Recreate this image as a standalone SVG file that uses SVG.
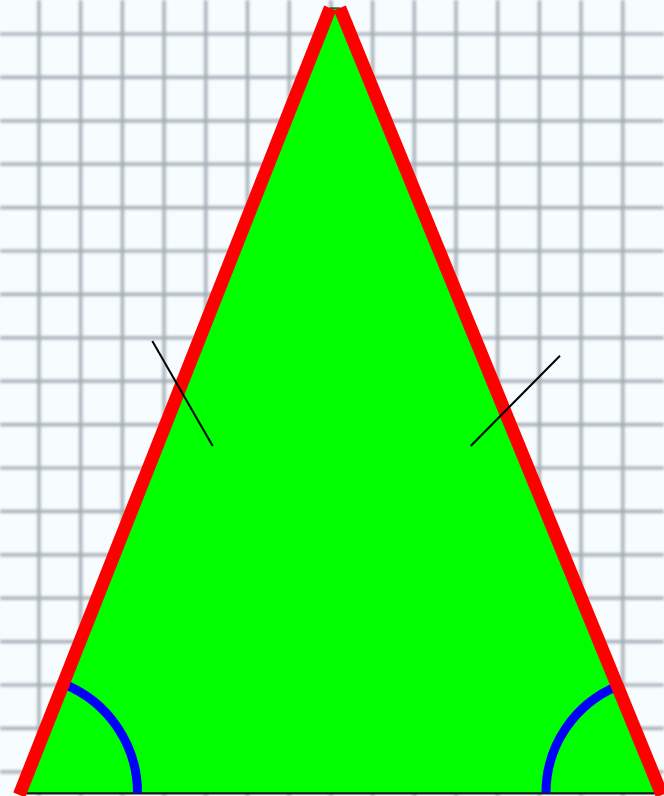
<svg xmlns="http://www.w3.org/2000/svg" width="664" height="796" viewBox="0 0 664 796">
<defs>
<filter id="blur" x="-5%" y="-5%" width="110%" height="110%"><feGaussianBlur stdDeviation="1.7"/></filter>
<style>
.grid line{stroke:#a2acb5;stroke-width:3.2}
.side{stroke:#ff0000;stroke-width:13;stroke-linecap:butt;fill:none}
.arc{stroke:#0000ff;stroke-width:9;fill:none}
.tick{stroke:#000;stroke-width:2;fill:none}
</style>
</defs>
<rect x="0" y="0" width="664" height="796" fill="#f7fcfe"/>
<g id="grid" class="grid" filter="url(#blur)">
<line x1="39" y1="0" x2="39" y2="796"/>
<line x1="80.7" y1="0" x2="80.7" y2="796"/>
<line x1="122.4" y1="0" x2="122.4" y2="796"/>
<line x1="164.1" y1="0" x2="164.1" y2="796"/>
<line x1="205.8" y1="0" x2="205.8" y2="796"/>
<line x1="247.5" y1="0" x2="247.5" y2="796"/>
<line x1="289.2" y1="0" x2="289.2" y2="796"/>
<line x1="330.9" y1="0" x2="330.9" y2="796"/>
<line x1="372.6" y1="0" x2="372.6" y2="796"/>
<line x1="414.3" y1="0" x2="414.3" y2="796"/>
<line x1="456" y1="0" x2="456" y2="796"/>
<line x1="497.7" y1="0" x2="497.7" y2="796"/>
<line x1="539.4" y1="0" x2="539.4" y2="796"/>
<line x1="581.1" y1="0" x2="581.1" y2="796"/>
<line x1="622.8" y1="0" x2="622.8" y2="796"/>
<line x1="0" y1="34" x2="664" y2="34"/>
<line x1="0" y1="77.4" x2="664" y2="77.4"/>
<line x1="0" y1="120.8" x2="664" y2="120.8"/>
<line x1="0" y1="164.2" x2="664" y2="164.2"/>
<line x1="0" y1="207.6" x2="664" y2="207.6"/>
<line x1="0" y1="251" x2="664" y2="251"/>
<line x1="0" y1="294.4" x2="664" y2="294.4"/>
<line x1="0" y1="337.8" x2="664" y2="337.8"/>
<line x1="0" y1="381.2" x2="664" y2="381.2"/>
<line x1="0" y1="424.6" x2="664" y2="424.6"/>
<line x1="0" y1="468" x2="664" y2="468"/>
<line x1="0" y1="511.4" x2="664" y2="511.4"/>
<line x1="0" y1="554.8" x2="664" y2="554.8"/>
<line x1="0" y1="598.2" x2="664" y2="598.2"/>
<line x1="0" y1="641.6" x2="664" y2="641.6"/>
<line x1="0" y1="685" x2="664" y2="685"/>
<line x1="0" y1="728.4" x2="664" y2="728.4"/>
<line x1="0" y1="771.8" x2="664" y2="771.8"/>
</g>
<g id="triangle">
<polygon points="330,8 340,8 661,793 20,793" fill="#00ff00" stroke="#000" stroke-width="1"/>
<line x1="20" y1="793.5" x2="661" y2="793.5" stroke="#1a1a1a" stroke-width="2"/>
</g>
<g id="angles">
<path class="arc" d="M137.5,793 A117.5,117.5 0 0 0 63.2,683.7"/>
<path class="arc" d="M546,793 A115.6,115.6 0 0 1 617.8,686"/>
</g>
<g id="sides">
<line class="side" x1="330.2" y1="8" x2="19.3" y2="795"/>
<line class="side" x1="339.8" y1="8" x2="662" y2="795"/>
</g>
<g id="ticks">
<line class="tick" x1="152.3" y1="341" x2="212.7" y2="446"/>
<line class="tick" x1="560" y1="355.7" x2="470.7" y2="446"/>
</g>
</svg>
